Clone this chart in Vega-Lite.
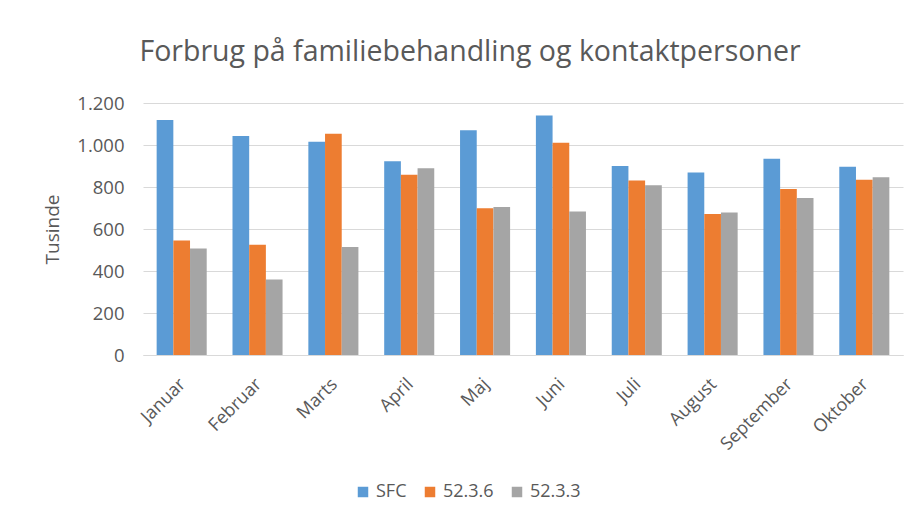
{
  "$schema": "https://vega.github.io/schema/vega-lite/v6.json",
  "autosize": "none",
  "width": 760,
  "height": 252,
  "padding": {"left": 143, "top": 103, "right": 10, "bottom": 160},
  "background": "white",
  "title": {
    "text": "Forbrug på familiebehandling og kontaktpersoner",
    "font": "Open Sans",
    "fontSize": 28.5,
    "fontWeight": "normal",
    "color": "#595959",
    "anchor": "middle",
    "frame": "group",
    "offset": 28,
    "dx": -53
  },
  "data": {
    "values": [
      {"maaned": "Januar", "serie": "SFC", "vaerdi": 1119},
      {"maaned": "Januar", "serie": "52.3.6", "vaerdi": 545},
      {"maaned": "Januar", "serie": "52.3.3", "vaerdi": 507},
      {"maaned": "Februar", "serie": "SFC", "vaerdi": 1043},
      {"maaned": "Februar", "serie": "52.3.6", "vaerdi": 525},
      {"maaned": "Februar", "serie": "52.3.3", "vaerdi": 360},
      {"maaned": "Marts", "serie": "SFC", "vaerdi": 1015},
      {"maaned": "Marts", "serie": "52.3.6", "vaerdi": 1054},
      {"maaned": "Marts", "serie": "52.3.3", "vaerdi": 514},
      {"maaned": "April", "serie": "SFC", "vaerdi": 923},
      {"maaned": "April", "serie": "52.3.6", "vaerdi": 858},
      {"maaned": "April", "serie": "52.3.3", "vaerdi": 889},
      {"maaned": "Maj", "serie": "SFC", "vaerdi": 1070},
      {"maaned": "Maj", "serie": "52.3.6", "vaerdi": 699},
      {"maaned": "Maj", "serie": "52.3.3", "vaerdi": 705},
      {"maaned": "Juni", "serie": "SFC", "vaerdi": 1141},
      {"maaned": "Juni", "serie": "52.3.6", "vaerdi": 1011},
      {"maaned": "Juni", "serie": "52.3.3", "vaerdi": 683},
      {"maaned": "Juli", "serie": "SFC", "vaerdi": 900},
      {"maaned": "Juli", "serie": "52.3.6", "vaerdi": 831},
      {"maaned": "Juli", "serie": "52.3.3", "vaerdi": 808},
      {"maaned": "August", "serie": "SFC", "vaerdi": 869},
      {"maaned": "August", "serie": "52.3.6", "vaerdi": 672},
      {"maaned": "August", "serie": "52.3.3", "vaerdi": 678},
      {"maaned": "September", "serie": "SFC", "vaerdi": 934},
      {"maaned": "September", "serie": "52.3.6", "vaerdi": 791},
      {"maaned": "September", "serie": "52.3.3", "vaerdi": 748},
      {"maaned": "Oktober", "serie": "SFC", "vaerdi": 896},
      {"maaned": "Oktober", "serie": "52.3.6", "vaerdi": 835},
      {"maaned": "Oktober", "serie": "52.3.3", "vaerdi": 847}
    ]
  },
  "mark": {"type": "bar"},
  "encoding": {
    "x": {
      "field": "maaned",
      "type": "nominal",
      "sort": null,
      "title": null,
      "scale": {"paddingInner": 0.34, "paddingOuter": 0.18},
      "axis": {
        "labelAngle": -45,
        "labelFont": "Open Sans",
        "labelFontSize": 18,
        "labelColor": "#595959",
        "ticks": false,
        "domainColor": "#d9d9d9",
        "labelPadding": 20,
        "labelOffset": -5
      }
    },
    "xOffset": {"field": "serie", "type": "nominal", "sort": ["SFC", "52.3.6", "52.3.3"]},
    "y": {
      "field": "vaerdi",
      "type": "quantitative",
      "title": "Tusinde",
      "scale": {"domain": [0, 1200]},
      "axis": {
        "values": [0, 200, 400, 600, 800, 1000, 1200],
        "labelExpr": "replace(format(datum.value, ','), ',', '.')",
        "labelFont": "Open Sans",
        "labelFontSize": 18.5,
        "labelColor": "#595959",
        "titleFont": "Open Sans",
        "titleFontSize": 19,
        "titleFontWeight": "normal",
        "titleColor": "#595959",
        "titlePadding": 14,
        "ticks": false,
        "domain": false,
        "gridColor": "#d9d9d9",
        "labelPadding": 19
      }
    },
    "color": {
      "field": "serie",
      "type": "nominal",
      "sort": ["SFC", "52.3.6", "52.3.3"],
      "scale": {"domain": ["SFC", "52.3.6", "52.3.3"], "range": ["#5B9BD5", "#ED7D31", "#A5A5A5"]},
      "legend": {
        "title": null,
        "orient": "none",
        "direction": "horizontal",
        "legendX": 211,
        "legendY": 380,
        "symbolType": "square",
        "symbolSize": 110,
        "labelFont": "Open Sans",
        "labelFontSize": 18,
        "labelColor": "#595959",
        "columnPadding": 14,
        "symbolOpacity": 1
      }
    }
  },
  "config": {"view": {"stroke": null}}
}
